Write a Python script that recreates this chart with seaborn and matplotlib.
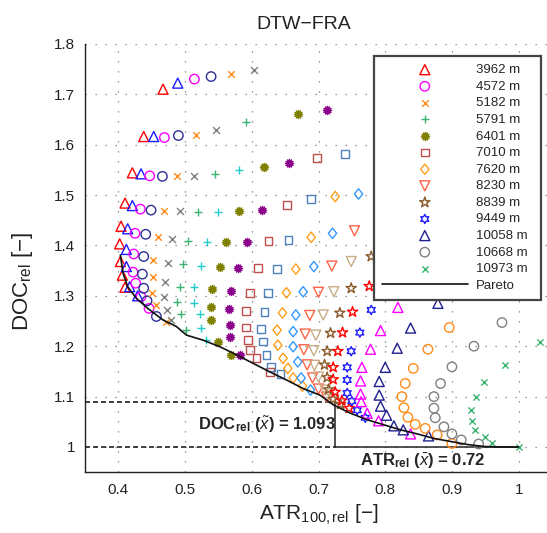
import numpy as np
import matplotlib
matplotlib.use("Agg")
import matplotlib.pyplot as plt
from matplotlib.path import Path
import seaborn as sns

sns.set_style("white")
plt.rcParams["font.family"] = ["Liberation Sans", "DejaVu Sans"]
plt.rcParams["mathtext.fontset"] = "custom"
plt.rcParams["mathtext.rm"] = "Liberation Sans"
plt.rcParams["mathtext.it"] = "Liberation Sans:italic"
plt.rcParams["mathtext.bf"] = "Liberation Sans:bold"

# ---------------- data (ATR_100,rel , DOC_rel) per cruise altitude ----------------
atr_3962 = [0.467, 0.438, 0.421, 0.410, 0.404, 0.402, 0.403, 0.406, 0.410]
doc_3962 = [1.710, 1.616, 1.544, 1.484, 1.438, 1.403, 1.368, 1.341, 1.317]
atr_4267 = [0.489, 0.453, 0.434, 0.421, 0.414, 0.412, 0.412, 0.417, 0.429]
doc_4267 = [1.722, 1.616, 1.542, 1.479, 1.433, 1.392, 1.358, 1.318, 1.300]
atr_4572 = [0.514, 0.469, 0.447, 0.433, 0.425, 0.423, 0.422, 0.426, 0.434, 0.446]
doc_4572 = [1.730, 1.614, 1.538, 1.472, 1.424, 1.383, 1.347, 1.325, 1.298, 1.275]
atr_4877 = [0.539, 0.490, 0.466, 0.449, 0.441, 0.438, 0.436, 0.438, 0.443, 0.457]
doc_4877 = [1.735, 1.618, 1.537, 1.470, 1.422, 1.378, 1.343, 1.315, 1.290, 1.259]
atr_5182 = [0.569, 0.516, 0.488, 0.469, 0.459, 0.452, 0.452, 0.451, 0.457, 0.472]
doc_5182 = [1.740, 1.620, 1.538, 1.469, 1.417, 1.371, 1.337, 1.305, 1.282, 1.249]
atr_5486 = [0.603, 0.547, 0.514, 0.493, 0.480, 0.474, 0.470, 0.469, 0.473, 0.479]
doc_5486 = [1.748, 1.629, 1.538, 1.468, 1.412, 1.366, 1.328, 1.297, 1.272, 1.251]
atr_5791 = [0.591, 0.545, 0.519, 0.504, 0.497, 0.492, 0.488, 0.494, 0.502]
doc_5791 = [1.644, 1.541, 1.466, 1.409, 1.363, 1.318, 1.288, 1.264, 1.232]
atr_6096 = [0.581, 0.550, 0.533, 0.524, 0.514, 0.514, 0.522, 0.524, 0.532]
doc_6096 = [1.550, 1.466, 1.407, 1.359, 1.317, 1.285, 1.264, 1.237, 1.212]
atr_6401 = [0.669, 0.618, 0.581, 0.561, 0.552, 0.540, 0.539, 0.539, 0.549, 0.569]
doc_6401 = [1.661, 1.556, 1.468, 1.407, 1.358, 1.313, 1.278, 1.251, 1.209, 1.183]
atr_6706 = [0.712, 0.656, 0.615, 0.593, 0.580, 0.569, 0.566, 0.567, 0.568, 0.582]
doc_6706 = [1.669, 1.563, 1.470, 1.407, 1.356, 1.310, 1.273, 1.242, 1.219, 1.183]
atr_7010 = [0.698, 0.653, 0.625, 0.609, 0.597, 0.591, 0.591, 0.594, 0.597, 0.607, 0.627]
doc_7010 = [1.573, 1.480, 1.409, 1.355, 1.306, 1.270, 1.237, 1.212, 1.192, 1.176, 1.149]
atr_7315 = [0.740, 0.689, 0.655, 0.638, 0.624, 0.619, 0.614, 0.617, 0.622, 0.629, 0.643]
doc_7315 = [1.581, 1.492, 1.411, 1.353, 1.305, 1.268, 1.234, 1.209, 1.183, 1.159, 1.145]
atr_7620 = [0.725, 0.689, 0.666, 0.652, 0.646, 0.638, 0.639, 0.647, 0.654, 0.662, 0.676]
doc_7620 = [1.497, 1.416, 1.353, 1.306, 1.266, 1.232, 1.202, 1.176, 1.156, 1.137, 1.121]
atr_7925 = [0.760, 0.721, 0.693, 0.677, 0.666, 0.662, 0.662, 0.669, 0.674, 0.688]
doc_7925 = [1.502, 1.424, 1.358, 1.308, 1.262, 1.229, 1.199, 1.169, 1.137, 1.113]
atr_8230 = [0.754, 0.720, 0.700, 0.687, 0.680, 0.678, 0.683, 0.691, 0.700, 0.712]
doc_8230 = [1.429, 1.359, 1.307, 1.261, 1.224, 1.193, 1.163, 1.137, 1.115, 1.099]
atr_8534 = [0.749, 0.723, 0.707, 0.696, 0.693, 0.694, 0.700, 0.710, 0.721]
doc_8534 = [1.368, 1.308, 1.262, 1.222, 1.191, 1.162, 1.139, 1.113, 1.095]
atr_8839 = [0.779, 0.749, 0.732, 0.718, 0.713, 0.709, 0.713, 0.715, 0.722, 0.733]
doc_8839 = [1.378, 1.315, 1.266, 1.226, 1.190, 1.163, 1.138, 1.114, 1.095, 1.085]
atr_9144 = [0.776, 0.751, 0.736, 0.729, 0.722, 0.722, 0.725, 0.735, 0.746]
doc_9144 = [1.319, 1.268, 1.227, 1.190, 1.158, 1.134, 1.109, 1.092, 1.077]
atr_9449 = [0.779, 0.762, 0.749, 0.743, 0.743, 0.743, 0.750, 0.758, 0.770]
doc_9449 = [1.272, 1.227, 1.190, 1.158, 1.133, 1.107, 1.091, 1.073, 1.058]
atr_9754 = [0.819, 0.793, 0.778, 0.765, 0.763, 0.763, 0.764, 0.773, 0.790, 0.838]
doc_9754 = [1.277, 1.231, 1.194, 1.158, 1.131, 1.105, 1.090, 1.067, 1.052, 1.026]
atr_10058 = [0.879, 0.838, 0.818, 0.800, 0.791, 0.791, 0.793, 0.802, 0.813, 0.827, 0.865]
doc_10058 = [1.285, 1.236, 1.196, 1.158, 1.130, 1.103, 1.081, 1.063, 1.042, 1.034, 1.022]
atr_10363 = [0.896, 0.864, 0.842, 0.830, 0.825, 0.828, 0.834, 0.845, 0.860, 0.878, 0.900]
doc_10363 = [1.237, 1.194, 1.156, 1.126, 1.100, 1.078, 1.059, 1.045, 1.037, 1.024, 1.007]
atr_10668 = [0.975, 0.933, 0.900, 0.883, 0.873, 0.873, 0.875, 0.888, 0.900, 0.914, 0.940]
doc_10668 = [1.247, 1.200, 1.159, 1.126, 1.100, 1.077, 1.058, 1.040, 1.026, 1.014, 1.006]
atr_10973 = [1.032, 0.980, 0.948, 0.936, 0.928, 0.930, 0.934, 0.949, 0.960, 1.000]
doc_10973 = [1.208, 1.163, 1.128, 1.099, 1.073, 1.052, 1.034, 1.020, 1.007, 1.000]

pareto_atr = [0.403, 0.407, 0.414, 0.427, 0.444, 0.467, 0.487, 0.502, 0.527, 0.552,
              0.577, 0.602, 0.627, 0.652, 0.677, 0.702, 0.723, 0.748, 0.773, 0.798,
              0.823, 0.848, 0.873, 0.898, 0.923, 0.948, 0.973, 1.000]
pareto_doc = [1.381, 1.345, 1.318, 1.295, 1.275, 1.252, 1.239, 1.222, 1.212, 1.199,
              1.183, 1.166, 1.149, 1.133, 1.116, 1.103, 1.083, 1.067, 1.054, 1.044,
              1.034, 1.026, 1.017, 1.011, 1.005, 1.001, 1.000, 1.000]

doc_opt_label = "1.093"
atr_opt_label = "0.72"
doc_opt_line = 1.09
atr_opt_line = 0.725
doc_min = 1.0
atr_max = 1.0

x_ticks = [0.4, 0.5, 0.6, 0.7, 0.8, 0.9, 1.0]
x_ticklabels = ["0.4", "0.5", "0.6", "0.7", "0.8", "0.9", "1"]
y_ticks = [1.0, 1.1, 1.2, 1.3, 1.4, 1.5, 1.6, 1.7, 1.8]
y_ticklabels = ["1", "1.1", "1.2", "1.3", "1.4", "1.5", "1.6", "1.7", "1.8"]

# ---------------- styles ----------------
def star_path(n, inner):
    ang = np.linspace(0, 2 * np.pi, 2 * n, endpoint=False) + np.pi / 2
    r = np.where(np.arange(2 * n) % 2 == 0, 1.0, inner)
    v = np.column_stack([r * np.cos(ang), r * np.sin(ang)])
    v = np.vstack([v, v[:1]])
    return Path(v, closed=True)

sunburst = star_path(12, 0.7)
diamond = Path([(0, 1), (0.8, 0), (0, -1), (-0.8, 0), (0, 1)], closed=True)
hexagram = star_path(6, 0.55)

# (altitude, atr, doc, marker, color, size, filled, show in legend)
series = [
    (3962, atr_3962, doc_3962, "^", "#ff0000", 52, False, True),
    (4267, atr_4267, doc_4267, "^", "#1a1aff", 52, False, False),
    (4572, atr_4572, doc_4572, "o", "#ff00ff", 46, False, True),
    (4877, atr_4877, doc_4877, "o", "#2e2e96", 46, False, False),
    (5182, atr_5182, doc_5182, "x", "#ff8c1a", 22, None, True),
    (5486, atr_5486, doc_5486, "x", "#808080", 25, None, False),
    (5791, atr_5791, doc_5791, "+", "#3cb371", 36, None, True),
    (6096, atr_6096, doc_6096, "+", "#22cccc", 36, None, False),
    (6401, atr_6401, doc_6401, sunburst, "#808000", 40, True, True),
    (6706, atr_6706, doc_6706, sunburst, "#8b008b", 40, True, False),
    (7010, atr_7010, doc_7010, "s", "#c0504d", 30, False, True),
    (7315, atr_7315, doc_7315, "s", "#4f81bd", 30, False, False),
    (7620, atr_7620, doc_7620, diamond, "#ff9f1a", 56, False, True),
    (7925, atr_7925, doc_7925, diamond, "#3399ff", 56, False, False),
    (8230, atr_8230, doc_8230, "v", "#ff6347", 52, False, True),
    (8534, atr_8534, doc_8534, "v", "#c8ad85", 52, False, False),
    (8839, atr_8839, doc_8839, "*", "#8b5a2b", 60, False, True),
    (9144, atr_9144, doc_9144, "*", "#ff0000", 60, False, False),
    (9449, atr_9449, doc_9449, hexagram, "#1a1aff", 44, False, True),
    (9754, atr_9754, doc_9754, "^", "#ff00ff", 52, False, False),
    (10058, atr_10058, doc_10058, "^", "#1f1f8f", 52, False, True),
    (10363, atr_10363, doc_10363, "o", "#ff8c1a", 46, False, False),
    (10668, atr_10668, doc_10668, "o", "#808080", 46, False, True),
    (10973, atr_10973, doc_10973, "x", "#3cb371", 20, None, True),
]

W, H = 547, 533
fig = plt.figure(figsize=(W / 100, H / 100), dpi=100)
ax = fig.add_axes([85 / W, (H - 472.2) / H, (552 - 85) / W, (472.2 - 43.8) / H])

for alt, xs, ys, mk, col, size, filled, in_leg in series:
    lab = f"{alt} m" if in_leg else "_nolegend_"
    if filled is None:
        sns.scatterplot(x=xs, y=ys, ax=ax, marker=mk, s=size, color=col,
                        linewidth=1.0, label=lab, zorder=3)
    elif filled:
        sns.scatterplot(x=xs, y=ys, ax=ax, marker=mk, s=size, color=col,
                        edgecolor=col, linewidth=0.6, label=lab, zorder=3)
    else:
        sns.scatterplot(x=xs, y=ys, ax=ax, marker=mk, s=size, color=col,
                        facecolor="none", edgecolor=col, linewidth=1.0,
                        label=lab, zorder=3)

sns.lineplot(x=pareto_atr, y=pareto_doc, ax=ax, sort=False, estimator=None,
             color="#111111", linewidth=1.2, label="Pareto", zorder=4)

# optimum annotation lines
dash = (0, (3, 1.8))
ax.plot([0.35, atr_opt_line], [doc_opt_line, doc_opt_line], color="#222222",
        linestyle=dash, linewidth=1.2, zorder=2)
ax.plot([0.35, atr_opt_line], [doc_min, doc_min], color="#222222",
        linestyle=dash, linewidth=1.2, zorder=2)
ax.plot([atr_opt_line, atr_opt_line], [doc_min, doc_opt_line], color="#222222",
        linewidth=1.1, zorder=2)
ax.plot([atr_opt_line, atr_max], [doc_min, doc_min], color="#222222",
        linewidth=1.1, zorder=2)

ax.text(0.519, 1.044, r"DOC$_{\mathbf{rel}}$ ($\tilde{x}$) = " + doc_opt_label,
        fontsize=12, fontweight="bold", va="center", ha="left", zorder=6)
ax.text(0.762, 0.972, r"ATR$_{\mathbf{rel}}$ ($\bar{x}$) = " + atr_opt_label,
        fontsize=12, fontweight="bold", va="center", ha="left", zorder=6)

# axes styling
ax.set_xlim(0.35, 1.05)
ax.set_ylim(0.95, 1.8)
ax.set_xticks(x_ticks)
ax.set_xticklabels(x_ticklabels)
ax.set_yticks(y_ticks)
ax.set_yticklabels(y_ticklabels)
ax.tick_params(axis="both", direction="in", length=4, width=0.8, labelsize=11,
               colors="#222222")
ax.tick_params(axis="x", pad=8)
ax.tick_params(axis="y", pad=7)
ax.grid(True, color="#777777", linestyle=(0, (1, 7)), linewidth=0.9)
ax.set_axisbelow(True)
for sp in ["top", "right"]:
    ax.spines[sp].set_visible(False)
for sp in ["left", "bottom"]:
    ax.spines[sp].set_color("#222222")
    ax.spines[sp].set_linewidth(1.0)

ax.set_title("DTW\u2212FRA", fontsize=14, x=0.468, pad=11, color="#222222")
ax.set_xlabel("ATR$_{\\rm 100,rel}$ [\u2212]", fontsize=15, color="#222222")
ax.set_ylabel("DOC$_{\\rm rel}$ [\u2212]", fontsize=16, color="#222222")
ax.yaxis.set_label_coords(-0.107, 0.445)

handles, labels = ax.get_legend_handles_labels()
leg = ax.legend(handles, labels, loc="upper left",
                bbox_to_anchor=(374 / W, (H - 303) / H, (541 - 374) / W, 247 / H),
                bbox_transform=fig.transFigure, mode="expand", borderaxespad=0,
                fontsize=9.5, labelspacing=0.33, borderpad=0.6, handlelength=6.5,
                handletextpad=0.6, fancybox=False, framealpha=1, scatterpoints=1)
leg.get_frame().set_edgecolor("#444444")
leg.get_frame().set_linewidth(1.6)
leg.set_zorder(10)

fig.savefig("out.png", dpi=100)
